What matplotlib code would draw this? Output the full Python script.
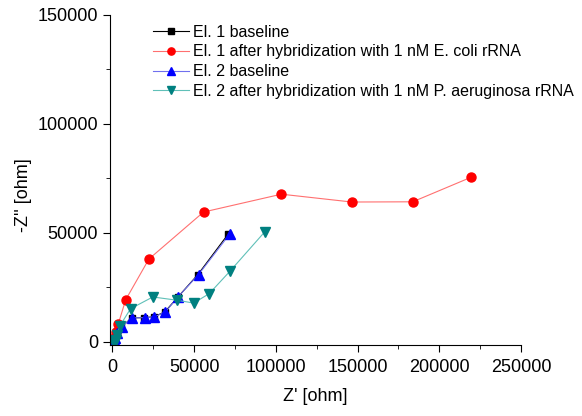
import numpy as np
import matplotlib.pyplot as plt
from matplotlib.ticker import MultipleLocator

plt.rcParams['font.family'] = ['Liberation Sans', 'DejaVu Sans']

# El. 1 baseline
x_e1 = [500, 1200, 2500, 5500, 11700, 19300, 25350, 32000, 40100, 52300, 70950]
y_e1 = [300, 1200, 3500, 6700, 10900, 11000, 11400, 13600, 20500, 30800, 49500]
# El. 1 after hybridization with E. coli
x_e1h = [500, 1100, 2000, 3650, 8100, 22300, 55750, 103400, 146500, 183800, 219300]
y_e1h = [600, 1800, 4500, 8300, 19200, 37900, 59500, 67700, 64100, 64200, 75400]
# El. 2 baseline
x_e2 = [600, 1000, 1640, 3040, 5650, 12160, 19900, 25700, 32400, 40100, 52700, 71900]
y_e2 = [200, 600, 1500, 3770, 6800, 10900, 11000, 11400, 13600, 20500, 30800, 49500]
# El. 2 after hybridization with P. aeruginosa
x_e2h = [600, 1200, 2000, 3040, 4440, 11100, 24700, 39500, 49700, 59200, 71900, 93200]
y_e2h = [200, 400, 770, 3000, 7100, 15100, 20500, 19000, 17700, 22000, 32300, 50400]

fig = plt.figure(figsize=(5.82, 4.16), dpi=100)
ax = fig.add_axes([0.189, 0.171, 0.706, 0.793])

ax.plot(x_e1, y_e1, color='black', lw=0.8, marker='s', ms=5, mfc='black', mec='black',
        label='El. 1 baseline')
ax.plot(x_e1h, y_e1h, color='#ff7070', lw=0.8, marker='o', ms=6.5, mfc='red', mec='red',
        label='El. 1 after hybridization with 1 nM E. coli rRNA')
ax.plot(x_e2, y_e2, color='#7070ee', lw=0.8, marker='^', ms=7, mfc='blue', mec='blue',
        label='El. 2 baseline')
ax.plot(x_e2h, y_e2h, color='#60c0b8', lw=0.8, marker='v', ms=7, mfc='#008080', mec='#008080',
        label='El. 2 after hybridization with 1 nM P. aeruginosa rRNA')

ax.set_xlim(-1500, 250000)
ax.set_ylim(-1500, 150000)
ax.spines['top'].set_visible(False)
ax.spines['right'].set_visible(False)
ax.xaxis.set_major_locator(MultipleLocator(50000))
ax.xaxis.set_minor_locator(MultipleLocator(25000))
ax.yaxis.set_major_locator(MultipleLocator(50000))
ax.yaxis.set_minor_locator(MultipleLocator(25000))
ax.tick_params(which='major', direction='out', length=5, labelsize=13)
ax.tick_params(which='minor', direction='out', length=3)
ax.tick_params(axis='x', pad=5)
ax.set_xlabel("Z' [ohm]", fontsize=13, labelpad=9)
ax.set_ylabel("-Z'' [ohm]", fontsize=13)
ax.yaxis.set_label_coords(-0.19, 0.455)

leg = ax.legend(loc='upper left', bbox_to_anchor=(0.09, 0.99), frameon=False, fontsize=11.5,
                handlelength=2.2, handletextpad=0.3, labelspacing=0.3, borderaxespad=0,
                markerscale=0.8)

fig.savefig('out.png', dpi=100)
